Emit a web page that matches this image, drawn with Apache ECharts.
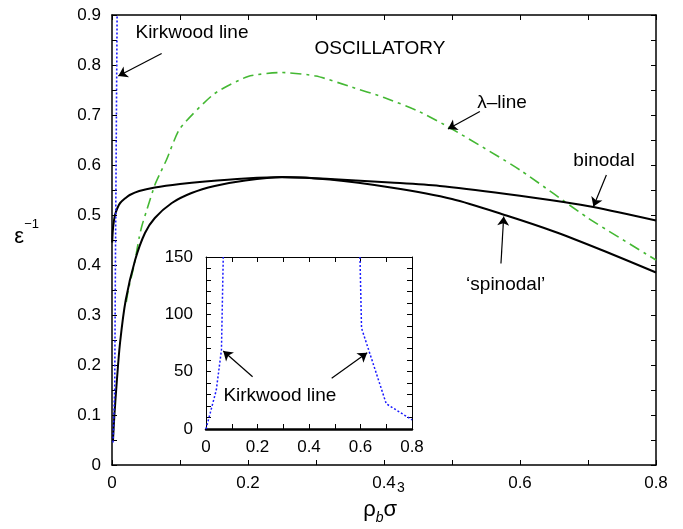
<!DOCTYPE html>
<html><head><meta charset="utf-8">
<script src="https://cdn.jsdelivr.net/npm/echarts@6/dist/echarts.min.js"></script>
<style>html,body{margin:0;padding:0;background:#fff}#c{width:683px;height:529px}</style>
</head><body><div id="c"></div>
<script>
// ---- data ----
const binodalRho = [0.0003,0.001,0.002,0.0044,0.008,0.012,0.02,0.026,0.04,0.063,0.1,0.137,0.196,0.25,0.321,0.409,0.482,0.58,0.664,0.708,0.8];
const binodalEps = [0.445,0.465,0.48,0.50,0.514,0.524,0.534,0.54,0.548,0.555,0.562,0.567,0.573,0.576,0.572,0.565,0.558,0.542,0.526,0.516,0.489];
const spinodalRho = [0.0015,0.0034,0.0069,0.0118,0.0202,0.034,0.0485,0.063,0.088,0.117,0.151,0.196,0.25,0.32,0.41,0.5,0.58,0.65,0.72,0.8];
const spinodalEps = [0.05,0.097,0.164,0.244,0.33,0.41,0.464,0.494,0.524,0.544,0.558,0.569,0.5755,0.571,0.555,0.532,0.499,0.467,0.43,0.385];
const lambdaRho = [0.021,0.024,0.03,0.034,0.04,0.0437,0.05,0.063,0.0706,0.08,0.1,0.15,0.2,0.25,0.3,0.35,0.4,0.45,0.5,0.6,0.7,0.8];
const lambdaEps = [0.326,0.35,0.385,0.41,0.455,0.477,0.505,0.56,0.583,0.61,0.673,0.742,0.777,0.785,0.778,0.757,0.735,0.708,0.672,0.59,0.494,0.41];
const kirkwoodRho = [0.0015,0.004,0.005,0.006,0.0075];
const kirkwoodEps = [0.045,0.15,0.4,0.6,0.9];
// inset
const insetLeftRho = [0,0.04,0.06,0.067];
const insetLeftVal = [0,34,69,150];
const insetRightRho = [0.598,0.604,0.7,0.8];
const insetRightVal = [150,88,22,8];
// tick labels
const mainXTicks = ['0','0.2','0.4','0.6','0.8'];
const mainYTicks = ['0','0.1','0.2','0.3','0.4','0.5','0.6','0.7','0.8','0.9'];
const insetXTicks = ['0','0.2','0.4','0.6','0.8'];
const insetYTicks = ['0','50','100','150'];

const zip = (a,b) => a.map((v,i)=>[v,b[i]]);
const FONT = 'Liberation Sans, Arial, Helvetica, sans-serif';
const BLK = '#000';

function axisCommon(extra){
  return Object.assign({
    axisLine:{show:true,onZero:false,lineStyle:{color:BLK,width:1.5}},
    axisTick:{show:true,inside:true,length:5,lineStyle:{color:BLK,width:1}},
    minorTick:{show:true,splitNumber:2,length:5,lineStyle:{color:BLK,width:1}},
    splitLine:{show:false},
    axisLabel:{show:true,color:BLK,fontSize:17,fontFamily:FONT},
  }, extra);
}
function lookup(arr, step){ return v => { const i = Math.round(v/step); return arr[i] !== undefined ? arr[i] : ''; }; }

const arrowLine = {
  silent:true, symbol:['none','arrow'], symbolSize:9,
  lineStyle:{color:BLK,width:1.2,type:'solid'}, label:{show:false}, animation:false,
  emphasis:{disabled:true}
};
function textPt(x,y,txt,size){
  return {coord:[x,y], name:txt, label:{show:true,position:'inside',formatter:txt,color:BLK,fontSize:size||19,fontFamily:FONT}};
}
const textMP = (data) => ({silent:true, symbol:'circle', symbolSize:0, itemStyle:{color:'rgba(0,0,0,0)'}, animation:false, data});

const option = {
  animation:false,
  backgroundColor:'#fff',
  grid:[
    {left:112,right:27,top:15,bottom:64,containLabel:false,outerBoundsMode:'none'},
    {left:206,right:271,top:257,bottom:100,containLabel:false,outerBoundsMode:'none',show:true,backgroundColor:'#fff',borderWidth:0}
  ],
  xAxis:[
    axisCommon({gridIndex:0,type:'value',min:0,max:0.8,interval:0.2,position:'bottom',
      axisLabel:{show:true,color:BLK,fontSize:17,fontFamily:FONT,margin:10,formatter:lookup(mainXTicks,0.2)},
      name:'{a|ρ}{b|b}{a|σ}{c|3}', nameLocation:'middle', nameGap:16, nameMoveOverlap:false,
      nameTextStyle:{color:BLK,fontFamily:FONT,rich:{
        a:{fontSize:22,fontFamily:FONT,color:BLK,lineHeight:40,verticalAlign:'bottom'},
        b:{fontSize:14,fontFamily:FONT,fontStyle:'italic',color:BLK,lineHeight:40,verticalAlign:'bottom',padding:[0,0,-4,0]},
        c:{fontSize:14,fontFamily:FONT,color:BLK,lineHeight:40,verticalAlign:'top'}
      }}}),
    axisCommon({gridIndex:0,type:'value',min:0,max:0.8,interval:0.2,position:'top',axisLabel:{show:false}}),
    axisCommon({gridIndex:1,type:'value',min:0,max:0.8,interval:0.2,position:'bottom',
      axisLine:{show:true,onZero:false,lineStyle:{color:BLK,width:2.5}},
      axisLabel:{show:true,color:BLK,fontSize:17,fontFamily:FONT,margin:10,formatter:lookup(insetXTicks,0.2)}}),
    axisCommon({gridIndex:1,type:'value',min:0,max:0.8,interval:0.2,position:'top',
      axisLine:{show:true,onZero:false,lineStyle:{color:BLK,width:1}},axisLabel:{show:false}})
  ],
  yAxis:[
    axisCommon({gridIndex:0,type:'value',min:0,max:0.9,interval:0.1,position:'left',
      axisLabel:{show:true,color:BLK,fontSize:17,fontFamily:FONT,margin:11,formatter:lookup(mainYTicks,0.1)},
      name:'{e|ε}{s|−1}', nameLocation:'middle', nameRotate:0, nameGap:70, nameMoveOverlap:false,
      nameTextStyle:{color:BLK,fontFamily:FONT,padding:[0,3,14,0],rich:{
        e:{fontSize:22,fontFamily:FONT,color:BLK,lineHeight:30,verticalAlign:'bottom'},
        s:{fontSize:13,fontFamily:FONT,color:BLK,lineHeight:30,verticalAlign:'top'}
      }}}),
    axisCommon({gridIndex:0,type:'value',min:0,max:0.9,interval:0.1,position:'right',axisLabel:{show:false}}),
    axisCommon({gridIndex:1,type:'value',min:0,max:150,interval:50,position:'left',
      axisLine:{show:true,onZero:false,lineStyle:{color:BLK,width:1}},
      minorTick:{show:true,splitNumber:5,length:5,lineStyle:{color:BLK,width:1}},
      axisLabel:{show:true,color:BLK,fontSize:17,fontFamily:FONT,margin:13,formatter:lookup(insetYTicks,50)}}),
    axisCommon({gridIndex:1,type:'value',min:0,max:150,interval:50,position:'right',
      axisLine:{show:true,onZero:false,lineStyle:{color:BLK,width:1}},
      minorTick:{show:true,splitNumber:5,length:5,lineStyle:{color:BLK,width:1}},
      axisLabel:{show:false}})
  ],
  series:[
    {name:'binodal',type:'line',xAxisIndex:0,yAxisIndex:0,data:zip(binodalRho,binodalEps),
      showSymbol:false,smooth:0.3,clip:true,lineStyle:{color:BLK,width:2},z:3,
      markLine:Object.assign({data:[
        [{coord:[0.073,0.823]},{coord:[0.0093,0.778]}],
        [{coord:[0.541,0.707]},{coord:[0.494,0.672]}],
        [{coord:[0.727,0.58]},{coord:[0.708,0.517]}],
        [{coord:[0.572,0.403]},{coord:[0.576,0.497]}]
      ]},arrowLine),
      markPoint:textMP([
        textPt(0.1176,0.864,'Kirkwood line'),
        textPt(0.394,0.832,'OSCILLATORY'),
        textPt(0.5735,0.724,'λ–line'),
        textPt(0.7235,0.608,'binodal'),
        textPt(0.579,0.36,'‘spinodal’')
      ])},
    {name:'spinodal',type:'line',xAxisIndex:0,yAxisIndex:0,data:zip(spinodalRho,spinodalEps),
      showSymbol:false,smooth:0.3,clip:true,lineStyle:{color:BLK,width:2},z:3},
    {name:'lambda',type:'line',xAxisIndex:0,yAxisIndex:0,data:zip(lambdaRho,lambdaEps),
      showSymbol:false,smooth:0.2,clip:true,lineStyle:{color:'#44b833',width:1.6,type:[11,5,3,5]},z:2},
    {name:'kirkwood',type:'line',xAxisIndex:0,yAxisIndex:0,data:zip(kirkwoodRho,kirkwoodEps),
      showSymbol:false,clip:true,lineStyle:{color:'#1a1aff',width:1.6,type:[2,2]},z:4},
    {name:'kirkwoodInsetL',type:'line',xAxisIndex:2,yAxisIndex:2,data:zip(insetLeftRho,insetLeftVal),
      showSymbol:false,clip:true,lineStyle:{color:'#1a1aff',width:1.5,type:[2,2]},z:5,
      markLine:Object.assign({data:[
        [{coord:[0.181,45.6]},{coord:[0.067,68]}],
        [{coord:[0.488,44.2]},{coord:[0.626,66.5]}]
      ]},arrowLine),
      markPoint:textMP([textPt(0.287,28.8,'Kirkwood line')])},
    {name:'kirkwoodInsetR',type:'line',xAxisIndex:2,yAxisIndex:2,data:zip(insetRightRho,insetRightVal),
      showSymbol:false,clip:true,lineStyle:{color:'#1a1aff',width:1.5,type:[2,2]},z:5}
  ]
};
const chart = echarts.init(document.getElementById('c'), null, {renderer:'canvas'});
chart.setOption(option);
</script></body></html>
